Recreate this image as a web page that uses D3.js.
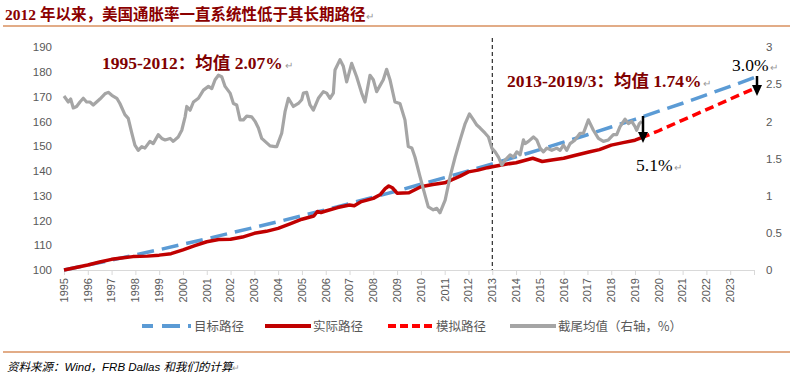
<!DOCTYPE html>
<html><head><meta charset="utf-8">
<script src="https://cdn.jsdelivr.net/npm/d3@7/dist/d3.min.js"></script>
<style>
body{margin:0;background:#fff;}
svg{display:block;}
</style></head><body>
<svg id="c" width="790" height="378"></svg>
<script>
// ---------- data ----------
const xTickLabels = ["1995","1996","1997","1998","1999","2000","2001","2002","2003","2004","2005","2006","2007","2008","2009","2010","2011","2012","2013","2014","2015","2016","2017","2018","2019","2020","2021","2022","2023"];
const xTickYears = [1995,1996,1997,1998,1999,2000,2001,2002,2003,2004,2005,2006,2007,2008,2009,2010,2011,2012,2013,2014,2015,2016,2017,2018,2019,2020,2021,2022,2023,2024];
const leftTicks = [100,110,120,130,140,150,160,170,180,190];
const rightTicks = [0,0.5,1,1.5,2,2.5,3];
const rightTickLabels = ["0","0.5","1","1.5","2","2.5","3"];

// 目标路径 (target path)
const targetYears  = [1995,1996,1997,1998,1999,2000,2001,2002,2003,2004,2005,2006,2007,2008,2009,2010,2011,2012,2013,2014,2015,2016,2017,2018,2019,2020,2021,2022,2023,2024];
const targetValues = [100,102.0,104.0,106.1,108.2,110.4,112.6,114.9,117.2,119.5,121.9,124.3,126.8,129.4,131.9,134.6,137.3,140.0,142.8,145.7,148.6,151.6,154.6,157.7,160.8,164.1,167.3,170.7,174.1,177.6];

// 实际路径 (actual path)
const actualYears  = [1995,1995.5,1996,1996.5,1997,1997.5,1997.9,1998.5,1999,1999.5,2000,2000.5,2001,2001.5,2002,2002.5,2003,2003.5,2004,2004.5,2005,2005.5,2005.65,2005.8,2006,2006.5,2007,2007.2,2007.5,2008,2008.3,2008.5,2008.65,2008.8,2009,2009.5,2010,2010.5,2011,2011.65,2012,2012.4,2012.8,2013,2013.5,2014,2014.7,2015.1,2015.5,2016,2016.5,2017.1,2017.5,2018,2018.5,2019,2019.25];
const actualValues = [100,101.0,102.0,103.2,104.3,104.9,105.4,105.6,106.0,106.6,108.1,109.8,111.4,112.3,112.4,113.3,114.8,115.6,116.8,118.6,120.5,121.8,123.6,123.2,123.8,125.2,126.2,125.9,127.6,128.9,130.5,132.8,133.9,133.2,131.0,131.2,133.6,134.5,135.2,137.9,139.6,140.3,141.3,141.7,142.6,143.3,145.1,143.8,144.4,145.1,146.3,147.7,148.6,150.4,151.4,152.4,153.3];

// 模拟路径 (simulated path)
const simYears  = [2019.25,2020,2021,2022,2023,2024];
const simValues = [153.3,156.2,160.5,164.7,169.0,173.2];

// 截尾均值 (trimmed mean, right axis, %)
const trimYears = [1995.00,1995.18,1995.28,1995.39,1995.53,1995.67,1995.81,1995.95,1996.09,1996.23,1996.51,1996.72,1996.86,1997.01,1997.22,1997.35,1997.56,1997.70,1997.85,1997.98,1998.12,1998.27,1998.40,1998.61,1998.75,1998.96,1999.11,1999.25,1999.46,1999.59,1999.80,1999.95,2000.09,2000.16,2000.30,2000.44,2000.65,2000.86,2001.07,2001.21,2001.35,2001.49,2001.63,2001.77,2001.98,2002.12,2002.26,2002.40,2002.54,2002.68,2002.89,2003.03,2003.17,2003.31,2003.45,2003.66,2003.87,2003.94,2004.15,2004.29,2004.43,2004.64,2004.85,2004.99,2005.06,2005.20,2005.34,2005.48,2005.69,2005.90,2006.04,2006.18,2006.32,2006.39,2006.60,2006.74,2006.88,2007.09,2007.30,2007.51,2007.65,2007.86,2008.00,2008.14,2008.42,2008.56,2008.70,2008.91,2009.12,2009.33,2009.47,2009.62,2009.75,2009.96,2010.17,2010.31,2010.52,2010.67,2010.80,2011.02,2011.23,2011.44,2011.65,2011.86,2012.04,2012.21,2012.35,2012.49,2012.70,2012.84,2012.98,2013.12,2013.26,2013.40,2013.54,2013.75,2013.89,2014.03,2014.17,2014.31,2014.38,2014.52,2014.73,2014.87,2015.01,2015.15,2015.29,2015.50,2015.71,2015.85,2015.99,2016.13,2016.27,2016.48,2016.69,2016.83,2017.04,2017.25,2017.46,2017.67,2017.88,2018.09,2018.23,2018.37,2018.58,2018.72,2018.86,2019.00,2019.07,2019.18,2019.28];
const trimValues = [2.34,2.26,2.30,2.18,2.20,2.26,2.31,2.26,2.26,2.22,2.30,2.37,2.39,2.35,2.31,2.24,2.09,2.04,1.84,1.68,1.61,1.66,1.64,1.73,1.70,1.82,1.77,1.75,1.77,1.73,1.79,1.88,2.06,2.20,2.15,2.26,2.31,2.42,2.47,2.44,2.56,2.62,2.60,2.47,2.38,2.24,2.22,2.02,2.02,2.07,2.06,2.00,1.91,1.77,1.73,1.67,1.66,1.66,1.84,2.13,2.31,2.20,2.24,2.29,2.38,2.39,2.22,2.15,2.31,2.40,2.38,2.31,2.38,2.69,2.83,2.74,2.53,2.78,2.60,2.38,2.26,2.62,2.56,2.40,2.56,2.70,2.56,2.26,2.24,2.02,1.66,1.64,1.52,1.26,1.01,0.85,0.81,0.83,0.77,0.94,1.26,1.52,1.75,1.97,2.10,2.02,1.95,1.91,1.84,1.79,1.64,1.59,1.52,1.41,1.48,1.55,1.52,1.59,1.55,1.75,1.70,1.73,1.79,1.75,1.64,1.59,1.64,1.61,1.64,1.61,1.68,1.61,1.70,1.75,1.84,1.84,2.02,1.88,1.77,1.73,1.75,1.82,1.82,1.93,2.03,1.97,2.00,1.93,1.88,1.97,2.00];

const titleText = "2012 年以来，美国通胀率一直系统性低于其长期路径";
const note1 = "1995-2012：均值 2.07%";
const note2 = "2013-2019/3：均值 1.74%";
const note3 = "3.0%";
const note4 = "5.1%";
const splitYear = 2013;
const sourceText = "资料来源：Wind，FRB Dallas 和我们的计算";
const legendItems = ["目标路径","实际路径","模拟路径","截尾均值（右轴，%）"];

// ---------- drawing ----------
const svg = d3.select("#c");
const W = 790, H = 378;
const plot = {left:64, right:754, top:47, bottom:270};

const x = d3.scaleLinear().domain([1995,2024]).range([plot.left, plot.right]);
const yL = d3.scaleLinear().domain([100,190]).range([plot.bottom, plot.top]);
const yR = d3.scaleLinear().domain([0,3]).range([plot.bottom, plot.top]);

const CJK = "'Noto Sans CJK SC', 'Noto Sans', sans-serif";
const SERIF = "'Liberation Serif', 'Noto Sans CJK SC', serif";
const axisGray = "#595959";
const ret = "↵";

// title
const tt = svg.append("text").attr("x",5).attr("y",20)
  .attr("font-family", SERIF).attr("font-weight","bold").attr("font-size",15.5)
  .attr("fill","#8B0000").text(titleText);
tt.append("tspan").attr("font-size",10).attr("fill","#999").attr("font-weight","normal").attr("dx",1).text(ret);

// orange rules
svg.append("line").attr("x1",3).attr("x2",W).attr("y1",26).attr("y2",26).attr("stroke","#C55A11").attr("stroke-width",1.2);
svg.append("line").attr("x1",3).attr("x2",W).attr("y1",352).attr("y2",352).attr("stroke","#C55A11").attr("stroke-width",1.2);

// source
const st = svg.append("text").attr("x",7).attr("y",371)
  .attr("font-family", "'Liberation Sans','Noto Sans CJK SC',sans-serif").attr("font-style","italic").attr("font-size",11.5)
  .attr("fill","#000").text(sourceText);
st.append("tspan").attr("font-size",9).attr("fill","#999").attr("font-style","normal").text(ret);

// x axis
const xAxis = d3.axisBottom(x).tickValues(xTickYears).tickSize(5).tickFormat("");
const gx = svg.append("g").attr("transform",`translate(0,${plot.bottom})`).call(xAxis);
gx.select(".domain").attr("stroke","#D9D9D9").attr("stroke-width",1);
gx.selectAll(".tick line").attr("stroke","#D9D9D9");
svg.append("g").selectAll("text").data(xTickLabels).join("text")
  .attr("transform", d => `translate(${x(+d)},278) rotate(-90)`)
  .attr("text-anchor","end").attr("dy","0.35em")
  .attr("font-family","'Liberation Sans','DejaVu Sans',sans-serif").attr("font-size",11)
  .attr("fill",axisGray).text(d=>d);

// left axis
const gl = svg.append("g").attr("transform",`translate(${plot.left},0)`)
  .call(d3.axisLeft(yL).tickValues(leftTicks).tickSize(0).tickPadding(12));
gl.select(".domain").remove();
gl.selectAll("text").attr("font-family","'Liberation Sans','DejaVu Sans',sans-serif").attr("font-size",11.5).attr("fill",axisGray);

// right axis
const gr = svg.append("g").attr("transform",`translate(${plot.right},0)`)
  .call(d3.axisRight(yR).tickValues(rightTicks).tickSize(0).tickPadding(12).tickFormat((d,i)=>rightTickLabels[i]));
gr.select(".domain").remove();
gr.selectAll("text").attr("font-family","'Liberation Sans','DejaVu Sans',sans-serif").attr("font-size",11.5).attr("fill",axisGray);

// split line
svg.append("line").attr("x1",x(splitYear)).attr("x2",x(splitYear)).attr("y1",38).attr("y2",plot.bottom)
  .attr("stroke","#000").attr("stroke-width",1).attr("stroke-dasharray","4,3");

const lineL = d3.line().x(d=>x(d[0])).y(d=>yL(d[1]));
const lineR = d3.line().x(d=>x(d[0])).y(d=>yR(d[1]));
const zip = (a,b)=>a.map((v,i)=>[v,b[i]]);

svg.append("path").attr("d", lineL(zip(targetYears,targetValues)))
  .attr("fill","none").attr("stroke","#5B9BD5").attr("stroke-width",3.5).attr("stroke-dasharray","17,8");
svg.append("path").attr("d", lineL(zip(simYears,simValues)))
  .attr("fill","none").attr("stroke","#FF0000").attr("stroke-width",3.5).attr("stroke-dasharray","9,5");
svg.append("path").attr("d", lineL(zip(actualYears,actualValues)))
  .attr("fill","none").attr("stroke","#C00000").attr("stroke-width",3.5).attr("stroke-linejoin","round");
svg.append("path").attr("d", lineR(zip(trimYears,trimValues)))
  .attr("fill","none").attr("stroke","#A5A5A5").attr("stroke-width",3.2).attr("stroke-linejoin","round");

// annotations
function note(txt, xx, yy, bold, color){
  const t = svg.append("text").attr("x",xx).attr("y",yy)
    .attr("font-family",SERIF).attr("font-size",17.5)
    .attr("font-weight",bold?"bold":"normal").attr("fill",color).text(txt);
  t.append("tspan").attr("font-size",10).attr("fill","#999").attr("font-weight","normal").attr("dx",2).text(ret);
}
note(note1, 102, 69, true, "#800000");
note(note2, 507, 87, true, "#800000");
note(note3, 732, 71, false, "#000");
note(note4, 636, 171, false, "#000");

// arrows
function arrow(xx, y1, y2){
  svg.append("line").attr("x1",xx).attr("x2",xx).attr("y1",y1).attr("y2",y2-10)
    .attr("stroke","#000").attr("stroke-width",2.5);
  svg.append("path").attr("d",`M${xx-5},${y2-11}L${xx+5},${y2-11}L${xx},${y2}Z`).attr("fill","#000");
}
arrow(643, 116, 143);
arrow(757, 76, 96);

// legend
const ly = 326;
const lg = svg.append("g");
const legendDefs = [
  {x1:142,x2:192,color:"#5B9BD5",dash:"11,9,18,8,3,30",tx:194},
  {x1:265,x2:311,color:"#C00000",dash:null,tx:313},
  {x1:388,x2:432,color:"#FF0000",dash:"8,4",tx:436},
  {x1:510,x2:556,color:"#A5A5A5",dash:null,tx:558}
];
legendDefs.forEach((d,i)=>{
  lg.append("line").attr("x1",d.x1).attr("x2",d.x2).attr("y1",ly).attr("y2",ly)
    .attr("stroke",d.color).attr("stroke-width",4).attr("stroke-dasharray",d.dash);
  lg.append("text").attr("x",d.tx).attr("y",ly).attr("dy","0.36em")
    .attr("font-family",CJK).attr("font-size",12.5).attr("fill",axisGray).text(legendItems[i]);
});
</script>
</body></html>
